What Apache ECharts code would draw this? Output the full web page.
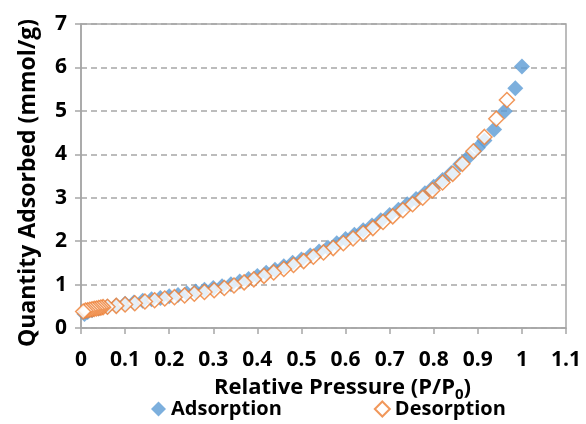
<!DOCTYPE html>
<html>
<head>
<meta charset="utf-8">
<script src="https://cdn.jsdelivr.net/npm/echarts@6/dist/echarts.min.js"></script>
<style>html,body{margin:0;padding:0;background:#fff}#c{width:586px;height:424px}</style>
</head>
<body>
<div id="c"></div>
<script>
const seriesNames = ['Adsorption', 'Desorption'];
const xTickLabels = ['0','0.1','0.2','0.3','0.4','0.5','0.6','0.7','0.8','0.9','1','1.1'];
const yTickLabels = ['0','1','2','3','4','5','6','7'];

const adsX = [0.008,0.015,0.025,0.04,0.06,0.08,0.10,0.12,0.14,0.16,0.18,0.20,0.22,0.24,0.26,0.28,0.30,0.32,0.34,0.36,0.38,0.40,0.42,0.44,0.46,0.48,0.50,0.52,0.54,0.56,0.58,0.60,0.62,0.64,0.66,0.68,0.70,0.72,0.74,0.76,0.78,0.80,0.82,0.84,0.86,0.88,0.90,0.915,0.937,0.961,0.985,1.0];
const adsY = [0.32,0.37,0.41,0.45,0.49,0.52,0.56,0.59,0.63,0.66,0.69,0.73,0.76,0.80,0.84,0.88,0.92,0.96,1.01,1.07,1.13,1.20,1.27,1.34,1.42,1.50,1.58,1.67,1.76,1.85,1.95,2.05,2.15,2.25,2.36,2.48,2.60,2.72,2.85,2.97,3.10,3.25,3.41,3.57,3.77,3.95,4.15,4.32,4.57,4.99,5.52,6.02];

const desX = [0.966,0.942,0.915,0.89,0.865,0.843,0.82,0.797,0.775,0.752,0.73,0.707,0.685,0.662,0.64,0.617,0.595,0.572,0.55,0.527,0.505,0.482,0.46,0.437,0.415,0.392,0.37,0.347,0.325,0.302,0.28,0.257,0.235,0.212,0.19,0.167,0.145,0.122,0.10,0.08,0.06,0.05,0.045,0.04,0.035,0.03,0.025,0.02,0.015,0.01,0.005];
const desY = [5.25,4.82,4.40,4.07,3.78,3.55,3.35,3.17,3.00,2.85,2.71,2.57,2.44,2.30,2.18,2.06,1.95,1.84,1.74,1.64,1.54,1.45,1.36,1.28,1.20,1.12,1.05,0.98,0.92,0.87,0.83,0.79,0.75,0.71,0.68,0.64,0.61,0.57,0.54,0.51,0.49,0.48,0.47,0.46,0.45,0.44,0.43,0.42,0.41,0.40,0.38];

const adsData = adsX.map((x, i) => [x, adsY[i]]);
const desData = desX.map((x, i) => [x, desY[i]]);

const FONT = 'Open Sans';
const chart = echarts.init(document.getElementById('c'), null, {renderer: 'canvas'});
chart.setOption({
  animation: false,
  backgroundColor: '#ffffff',
  grid: {left: 81, right: 20, top: 24, bottom: 96, show: true, borderColor: '#a6a6a6', borderWidth: 1.5, backgroundColor: 'transparent'},
  xAxis: {
    type: 'value', min: 0, max: 1.1, interval: 0.1,
    axisLine: {show: true, onZero: false, lineStyle: {color: '#a6a6a6', width: 1.5}},
    axisTick: {show: true, inside: false, length: 6, lineStyle: {color: '#a6a6a6', width: 1.5}},
    splitLine: {show: false},
    axisLabel: {margin: 22, fontFamily: FONT, fontWeight: 'bold', fontSize: 21, color: '#000',
      formatter: v => xTickLabels[Math.round(v * 10)]},
    name: '{t|Relative Pressure (P/P}{s|0}{t|)}',
    nameLocation: 'middle', nameGap: 45,
    nameTextStyle: {padding: [0, 0, 0, 38],
      rich: {t: {fontFamily: FONT, fontWeight: 'bold', fontSize: 22, color: '#000'},
             s: {fontFamily: FONT, fontWeight: 'bold', fontSize: 15, color: '#000', verticalAlign: 'bottom', padding: [14, 0, 0, 0]}}}
  },
  yAxis: {
    type: 'value', min: 0, max: 7, interval: 1,
    axisLine: {show: true, lineStyle: {color: '#a6a6a6', width: 1.5}},
    axisTick: {show: true, inside: false, length: 6, lineStyle: {color: '#a6a6a6', width: 1.5}},
    splitLine: {show: true, lineStyle: {color: '#a6a6a6', type: [6, 4], width: 1.5}},
    axisLabel: {margin: 14, fontFamily: FONT, fontWeight: 'bold', fontSize: 21, color: '#000',
      formatter: v => yTickLabels[Math.round(v)]},
    name: 'Quantity Adsorbed (mmol/g)',
    nameLocation: 'middle', nameGap: 41,
    nameTextStyle: {fontFamily: FONT, fontWeight: 'bold', fontSize: 23, color: '#000', padding: [0, 14, 0, 0]}
  },
  legend: {
    bottom: 0, left: 146, itemGap: 92, itemWidth: 15, itemHeight: 15,
    textStyle: {fontFamily: FONT, fontWeight: 'bold', fontSize: 20, color: '#000'},
    data: [
      {name: seriesNames[0], icon: 'diamond'},
      {name: seriesNames[1], icon: 'diamond'}
    ]
  },
  series: [
    {name: seriesNames[0], type: 'scatter', data: adsData, symbol: 'diamond', symbolSize: 16, z: 2,
      itemStyle: {color: '#5b9bd5', borderWidth: 0}},
    {name: seriesNames[1], type: 'scatter', data: desData, symbol: 'diamond', symbolSize: 15, z: 3,
      itemStyle: {color: '#ffffff', borderColor: '#ed7d31', borderWidth: 1.5}}
  ]
});
</script>
</body>
</html>
